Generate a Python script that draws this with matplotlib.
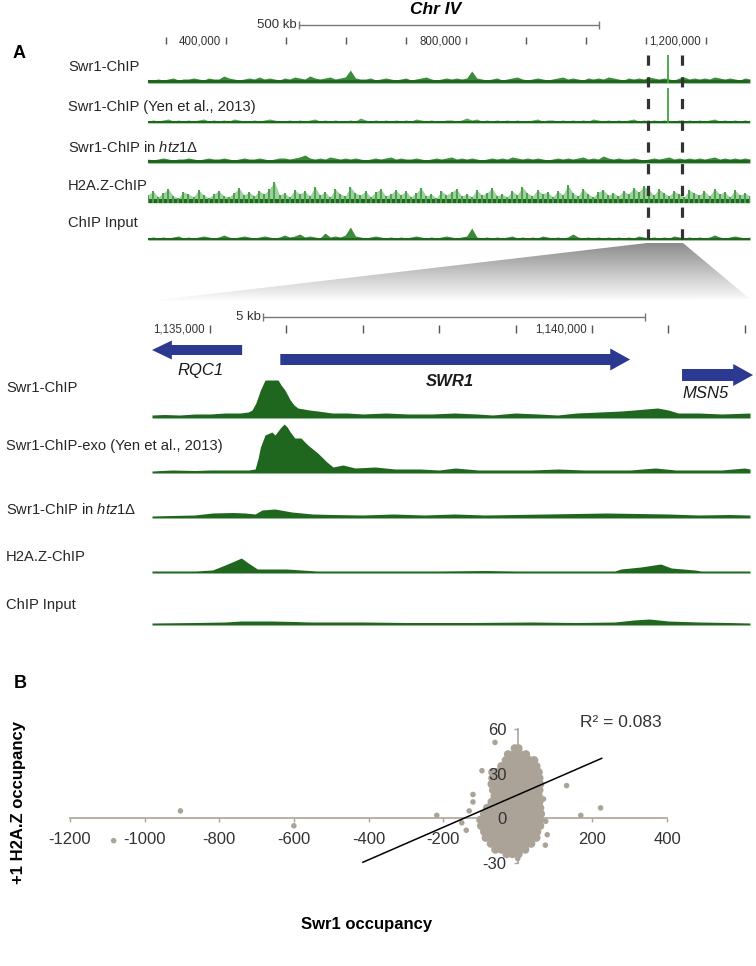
import numpy as np
import matplotlib
matplotlib.use("Agg")
import matplotlib.pyplot as plt
from matplotlib.patches import FancyArrow, Polygon
from matplotlib.colors import LinearSegmentedColormap

plt.rcParams['font.family'] = ['Liberation Sans', 'DejaVu Sans']
plt.rcParams['mathtext.fontset'] = 'custom'
plt.rcParams['mathtext.rm'] = 'Liberation Sans'
plt.rcParams['mathtext.it'] = 'Liberation Sans:italic'
plt.rcParams['axes.unicode_minus'] = False

# =====================================================================
# DATA
# =====================================================================
# --- panel A, chromosome IV overview (bp) ---
TOP_START, TOP_END = 270000, 1273000
top_ticks = [300000, 400000, 500000, 600000, 700000, 800000,
             900000, 1000000, 1100000, 1200000]
top_label_pos = [400000, 800000, 1200000]
top_label_txt = ['400,000', '800,000', '1,200,000']
top_scale_start, top_scale_len = 521700, 500000
zoom_region = [1103000, 1160000]

top_names = ['Swr1-ChIP', 'Swr1-ChIP (Yen et al., 2013)',
             r'Swr1-ChIP in $\mathit{htz1}$Δ', 'H2A.Z-ChIP', 'ChIP Input']

swr1_top = [3, 3, 4, 3, 4, 5, 3, 4, 4, 5, 4, 3, 5, 4, 4, 7, 5, 4, 3, 4,
            5, 4, 6, 4, 5, 4, 3, 5, 4, 6, 5, 4, 7, 5, 4, 5, 6, 4, 5, 6,
            13, 5, 4, 4, 5, 3, 4, 5, 4, 3, 4, 5, 3, 4, 5, 6, 4, 3, 4, 5,
            4, 5, 4, 5, 12, 5, 4, 3, 4, 5, 3, 4, 5, 6, 4, 3, 4, 5, 4, 3,
            4, 5, 6, 4, 5, 4, 3, 5, 4, 5, 4, 6, 5, 4, 3, 5, 4, 5, 4, 6,
            5, 4, 5, 4, 3, 5, 6, 4, 5, 4, 5, 4, 6, 5, 4, 5, 4, 3, 5, 4]
yen_top = [2, 3, 2, 3, 4, 2, 3, 2, 3, 2, 3, 4, 2, 3, 2, 3, 2, 4, 3, 2,
           2, 3, 2, 3, 4, 3, 2, 2, 3, 2, 3, 2, 3, 4, 2, 3, 2, 3, 2, 2,
           3, 2, 5, 3, 2, 3, 2, 3, 2, 3, 2, 3, 2, 4, 3, 2, 3, 2, 2, 3,
           3, 2, 3, 5, 3, 4, 2, 3, 2, 3, 2, 3, 2, 3, 2, 2, 3, 4, 2, 3,
           3, 2, 3, 2, 3, 2, 3, 2, 4, 3, 2, 3, 2, 3, 2, 3, 4, 2, 3, 2,
           3, 2, 3, 2, 2, 3, 2, 3, 2, 3, 2, 3, 4, 2, 3, 2, 3, 2, 3, 2]
htz1_top = [4, 3, 4, 5, 4, 3, 4, 4, 5, 4, 3, 4, 5, 4, 4, 5, 4, 3, 4, 5,
            4, 4, 5, 4, 3, 4, 5, 5, 4, 5, 6, 8, 5, 4, 5, 4, 6, 5, 4, 5,
            4, 5, 4, 3, 4, 5, 4, 5, 6, 4, 5, 4, 4, 5, 4, 3, 4, 5, 4, 5,
            6, 4, 5, 4, 5, 4, 3, 4, 5, 4, 5, 4, 6, 5, 4, 5, 4, 5, 4, 3,
            4, 5, 4, 5, 4, 5, 6, 4, 5, 4, 7, 5, 4, 5, 4, 4, 5, 4, 3, 4,
            5, 4, 5, 6, 4, 5, 4, 5, 4, 5, 4, 5, 6, 4, 5, 4, 5, 4, 5, 4]
h2az_top = [8, 12, 6, 10, 14, 7, 5, 11, 9, 6, 13, 8, 5, 9, 12, 7, 6, 10, 15, 8,
            11, 7, 12, 9, 14, 21, 8, 10, 6, 13, 9, 12, 7, 16, 8, 11, 6, 14, 9, 7,
            16, 10, 8, 12, 6, 11, 14, 7, 9, 13, 8, 12, 6, 10, 15, 7, 9, 5, 12, 8,
            11, 14, 7, 9, 6, 13, 8, 10, 15, 7, 9, 6, 12, 8, 16, 10, 7, 13, 9, 11,
            6, 12, 8, 18, 10, 7, 14, 9, 6, 11, 13, 8, 10, 7, 12, 9, 15, 11, 17, 13,
            8, 14, 10, 7, 12, 9, 6, 13, 10, 8, 12, 7, 14, 9, 11, 6, 13, 8, 10, 7]
input_top = [2, 3, 2, 3, 2, 3, 4, 2, 3, 2, 3, 4, 3, 2, 3, 5, 3, 2, 3, 4,
             3, 2, 3, 4, 3, 2, 3, 5, 3, 4, 6, 3, 4, 3, 2, 7, 3, 4, 3, 5,
             13, 4, 3, 2, 3, 4, 3, 2, 3, 2, 3, 2, 3, 4, 3, 2, 3, 2, 3, 4,
             3, 2, 3, 4, 12, 3, 2, 3, 2, 3, 2, 3, 4, 2, 3, 2, 3, 2, 4, 3,
             2, 3, 2, 3, 6, 3, 2, 3, 2, 3, 2, 3, 2, 3, 2, 3, 2, 4, 3, 2,
             3, 2, 3, 2, 4, 3, 2, 3, 2, 3, 2, 3, 5, 3, 2, 3, 4, 3, 2, 3]
top_tracks = [swr1_top, yen_top, htz1_top, h2az_top, input_top]
spike_pos = 1137000
top_spikes = [28, 35, 0, 0, 0]

# --- panel A, SWR1 locus (kb) ---
BOT_START, BOT_END = 1134.24, 1142.07
bot_ticks = [1135, 1136, 1137, 1138, 1139, 1140, 1141, 1142]
bot_label_pos = [1135, 1140]
bot_label_txt = ['1,135,000', '1,140,000']
bot_scale_start, bot_scale_len = 1135.69, 5.0

gene_names = ['RQC1', 'SWR1', 'MSN5']
gene_tail = [1135.42, 1135.92, 1141.18]
gene_tip = [1134.24, 1140.50, 1142.11]

bot_names = ['Swr1-ChIP', 'Swr1-ChIP-exo (Yen et al., 2013)',
             r'Swr1-ChIP in $\mathit{htz1}$Δ', 'H2A.Z-ChIP', 'ChIP Input']

swr1_bot_x = [1134.24, 1134.40, 1134.60, 1134.80, 1135.00, 1135.20, 1135.40, 1135.50,
              1135.55, 1135.60, 1135.66, 1135.72, 1135.89, 1135.93, 1135.98, 1136.05,
              1136.10, 1136.15, 1136.30, 1136.41, 1136.60, 1136.80, 1137.00, 1137.30,
              1137.60, 1137.90, 1138.20, 1138.50, 1138.70, 1139.00, 1139.30, 1139.55,
              1139.80, 1140.10, 1140.38, 1140.55, 1140.70, 1140.86, 1141.00, 1141.13,
              1141.40, 1141.70, 1142.07]
swr1_bot_y = [3, 3.5, 3, 4, 4, 5, 5, 6,
              8, 15, 28, 38, 38, 33, 28, 18,
              13, 10, 8, 7, 5, 5, 4, 5,
              4, 4, 5, 4, 3, 5, 4, 3,
              5, 6, 7, 8, 9, 10, 8, 5,
              5, 4, 5]
exo_bot_x = [1134.24, 1134.50, 1134.80, 1135.00, 1135.30, 1135.50, 1135.59, 1135.63,
             1135.66, 1135.72, 1135.81, 1135.85, 1135.92, 1135.97, 1136.01, 1136.05,
             1136.11, 1136.19, 1136.28, 1136.41, 1136.53, 1136.61, 1136.74, 1136.90,
             1137.16, 1137.42, 1137.75, 1138.00, 1138.21, 1138.51, 1138.80, 1139.20,
             1139.56, 1139.90, 1140.20, 1140.50, 1140.83, 1141.10, 1141.40, 1141.70,
             1142.00, 1142.07]
exo_bot_y = [2, 3, 2.5, 3, 3, 3, 4, 15,
             26, 38, 41, 38, 45, 49, 46, 41,
             35, 35, 28, 20, 11, 6, 8, 5,
             6, 4, 4, 3, 5, 3, 3, 3,
             4, 3, 3, 3, 5, 3, 3, 3,
             5, 4]
htz1_bot_x = [1134.24, 1134.50, 1134.80, 1135.03, 1135.30, 1135.46, 1135.59, 1135.68,
              1135.85, 1136.07, 1136.34, 1136.60, 1137.00, 1137.40, 1137.80, 1138.20,
              1138.60, 1139.00, 1139.40, 1139.80, 1140.20, 1140.60, 1141.00, 1141.40,
              1141.80, 1142.07]
htz1_bot_y = [2, 2.5, 3, 5, 5.5, 5, 4, 8,
              9, 6, 4, 3.5, 3, 4, 3, 4,
              3, 3.5, 4, 4.5, 5, 4.5, 4, 3,
              3.5, 3]
h2az_bot_x = [1134.24, 1134.80, 1135.03, 1135.10, 1135.29, 1135.41, 1135.50, 1135.62,
              1136.00, 1136.20, 1136.40, 1137.00, 1138.00, 1138.60, 1139.00, 1139.60,
              1140.30, 1140.38, 1140.64, 1140.90, 1141.04, 1141.35, 1141.43, 1142.07]
h2az_bot_y = [2, 2, 3, 5, 11, 15, 10, 4,
              4, 3, 2, 2, 2, 2.5, 2, 2,
              2, 4, 6, 9, 5, 3, 2, 2]
input_bot_x = [1134.24, 1134.80, 1135.20, 1135.40, 1135.80, 1136.10, 1136.30, 1137.00,
               1137.60, 1138.40, 1139.20, 1139.80, 1140.30, 1140.55, 1140.75, 1141.00,
               1141.40, 1141.80, 1142.07]
input_bot_y = [2, 2.5, 3, 4, 4, 3.5, 3, 3,
               2.5, 2.5, 3, 2.5, 3, 5, 6, 4,
               3, 2.5, 2]
bot_tracks_x = [swr1_bot_x, exo_bot_x, htz1_bot_x, h2az_bot_x, input_bot_x]
bot_tracks_y = [swr1_bot_y, exo_bot_y, htz1_bot_y, h2az_bot_y, input_bot_y]

# --- panel B, scatter ---
cloud_row_y = [47, 43, 39, 35, 31, 27, 23, 19, 15, 11, 7, 3, -1, -5, -9, -13, -17, -21, -24]
cloud_row_x = [
    [-8, 2],
    [-26, -10, 6, 22],
    [-32, -16, 0, 16, 32, 44],
    [-44, -28, -12, 4, 20, 36, 50],
    [-68, -54, -38, -22, -6, 10, 26, 42, 56],
    [-68, -52, -36, -20, -4, 12, 28, 44, 58],
    [-70, -54, -38, -22, -6, 10, 26, 42, 60],
    [-66, -50, -34, -18, -2, 14, 30, 46, 58],
    [-62, -46, -30, -14, 2, 18, 34, 50, 56],
    [-70, -54, -38, -22, -6, 10, 26, 42, 58],
    [-82, -66, -50, -34, -18, -2, 14, 30, 46, 60],
    [-90, -74, -58, -42, -26, -10, 6, 22, 38, 54, 62],
    [-100, -84, -68, -52, -36, -20, -4, 12, 28, 44, 60],
    [-98, -82, -66, -50, -34, -18, -2, 14, 30, 46, 60],
    [-90, -74, -58, -42, -26, -10, 6, 22, 38, 52],
    [-86, -70, -54, -38, -22, -6, 10, 26, 42, 50],
    [-72, -56, -40, -24, -8, 8, 24, 36],
    [-60, -44, -28, -12, 4, 20],
    [-30, -14, 2],
]
out_x = [-1083, -904, -600, -217, -150, -138, -130, -120, -120, -96, -61,
         69, 75, 79, 131, 169, 222, 0, 74]
out_y = [-15, 5, -5, 2, -3, -8, 5, 11, 16, 32, 51,
         13, -2, -11, 22, 2, 7, -27, -18]
trend_x = [-415, 225]
trend_y = [-29.5, 40.3]
r2_text = 'R² = 0.083'

# =====================================================================
# STYLE / LAYOUT
# =====================================================================
W, H = 756, 966
TXT = '#262626'
RULER = '#555555'
DARK_GREEN = '#1f661f'
GENE_BLUE = '#2b3990'
POINT = '#aba397'
AXIS_TAN = '#aca499'

fig = plt.figure(figsize=(W / 100, H / 100), dpi=100)


def px_axes(x0, y0, x1, y1):
    """Axes placed with pixel coordinates measured from the top-left."""
    ax = fig.add_axes([x0 / W, 1 - y1 / H, (x1 - x0) / W, (y1 - y0) / H])
    ax.set_axis_off()
    return ax


def px_text(x, y, s, **kw):
    kw.setdefault('color', TXT)
    fig.text(x / W, 1 - y / H, s, **kw)


# zoom connector (gradient trapezoid)
bg = px_axes(0, 0, W, H)
bg.set_xlim(0, W)
bg.set_ylim(H, 0)
fade = LinearSegmentedColormap.from_list('fade', ['#8a8a8a', '#ffffff'])
grad = np.linspace(0, 1, 200).reshape(-1, 1)
im = bg.imshow(grad, extent=(148, 752, 302, 242), cmap=fade, aspect='auto',
               origin='upper', vmin=0, vmax=1)
trap = Polygon([(150, 301), (647, 243), (683, 243), (750, 299)],
               closed=True, transform=bg.transData, facecolor='none', edgecolor='none')
bg.add_patch(trap)
im.set_clip_path(trap)

# panel labels and titles
px_text(13, 54, 'A', fontsize=13, fontweight='bold', va='center', color='black')
px_text(436, 10, 'Chr IV', fontsize=12.5, fontweight='bold', style='italic',
        ha='center', va='center', color='black')

# top ruler
rax = px_axes(148, 0, 750, 50)
rax.set_xlim(TOP_START, TOP_END)
rax.set_ylim(50, 0)
rax.vlines(top_ticks, 37, 44, color=RULER, lw=1)
for pos, txt in zip(top_label_pos, top_label_txt):
    rax.annotate(txt, (pos, 41), xytext=(-3.5, 0), textcoords='offset points',
                 ha='right', va='center', fontsize=8.3, color='#333333')
rax.hlines(25, top_scale_start, top_scale_start + top_scale_len, color='#777777', lw=1)
rax.vlines([top_scale_start, top_scale_start + top_scale_len], 21, 29, color='#777777', lw=1)
rax.annotate('500 kb', (top_scale_start, 25), xytext=(-1.5, 0), textcoords='offset points',
             ha='right', va='center', fontsize=9.5, color='#333333')

# overview tracks
top_base = [83, 123, 163, 203, 240]
top_label_y = [67, 107, 147, 186, 223]
top_fill = ['#3c8a3c', '#5aa65a', '#3c8a3c', '#9fd09f', '#3c8a3c']
top_band = [3, 2, 3, 4, 2.5]
top_bins = np.linspace(TOP_START, TOP_END, len(swr1_top))
for name, vals, spike, yb, ly, fc, band in zip(top_names, top_tracks, top_spikes,
                                                top_base, top_label_y, top_fill, top_band):
    ax = px_axes(148, yb - 36, 750, yb)
    ax.set_xlim(TOP_START, TOP_END)
    ax.set_ylim(0, 36)
    ax.fill_between(top_bins, 0, vals, color=fc, lw=0)
    if name == 'H2A.Z-ChIP':
        # spiky texture: thin columns over a pale fill
        ax.vlines(top_bins, 0, vals, color='#4c9f4c', lw=1.4)
    ax.axhspan(0, band, color=DARK_GREEN, lw=0)
    if spike:
        ax.vlines(spike_pos, 0, spike, color='#3fa33f', lw=1.3)
    px_text(68, ly, name, fontsize=10.6, va='center')

# dashed zoom markers
dax = px_axes(148, 50, 750, 245)
dax.set_xlim(TOP_START, TOP_END)
dax.set_ylim(245, 50)
dax.vlines(zoom_region, 55, 240, colors='#333333', lw=2.3,
           linestyles=(0, (3.2, 3.6)))

# locus ruler
lrax = px_axes(152, 300, 750, 340)
lrax.set_xlim(BOT_START, BOT_END)
lrax.set_ylim(340, 300)
lrax.vlines(bot_ticks, 325, 333, color=RULER, lw=1)
for pos, txt in zip(bot_label_pos, bot_label_txt):
    lrax.annotate(txt, (pos, 330), xytext=(-3.5, 0), textcoords='offset points',
                  ha='right', va='center', fontsize=8.3, color='#333333')
lrax.hlines(317, bot_scale_start, bot_scale_start + bot_scale_len, color='#777777', lw=1)
lrax.vlines([bot_scale_start, bot_scale_start + bot_scale_len], 313, 321, color='#777777', lw=1)
lrax.annotate('5 kb', (bot_scale_start, 317), xytext=(-1.5, 0), textcoords='offset points',
              ha='right', va='center', fontsize=9.5, color='#333333')

# genes
gax = px_axes(152, 335, 750, 400)
gax.set_xlim(BOT_START, BOT_END)
gax.set_ylim(400, 335)
gene_row = [350, 359.5, 375]
body_w = [10, 11, 12]
head_w = [19, 22, 22]
head_len = 0.26
label_pos = [(1134.87, 370), (1138.14, 382), (1141.49, 393)]
label_weight = ['normal', 'bold', 'normal']
for name, tail, tip, yr, bw, hw, lp, fw in zip(gene_names, gene_tail, gene_tip, gene_row,
                                               body_w, head_w, label_pos, label_weight):
    arr = FancyArrow(tail, yr, tip - tail, 0, width=bw, head_width=hw, head_length=head_len,
                     length_includes_head=True, color=GENE_BLUE, lw=0, clip_on=False)
    gax.add_patch(arr)
    gax.text(lp[0], lp[1], name, fontsize=12, style='italic', fontweight=fw,
             ha='center', va='center', color='#1a1a1a')

# locus tracks
bot_base = [418, 473, 518, 573, 625]
bot_label_y = [388, 446, 510, 557, 605]
for name, xs, ys, yb, ly in zip(bot_names, bot_tracks_x, bot_tracks_y, bot_base, bot_label_y):
    ax = px_axes(152, yb - 52, 750, yb)
    ax.set_xlim(BOT_START, BOT_END)
    ax.set_ylim(0, 52)
    ax.fill_between(xs, 0, ys, color=DARK_GREEN, lw=0)
    px_text(6, ly, name, fontsize=10.6, va='center')

# =====================================================================
# PANEL B
# =====================================================================
px_text(14, 683, 'B', fontsize=13, fontweight='bold', va='center', color='black')

cloud_x = [x for row in cloud_row_x for x in row]
cloud_y = [y for y, row in zip(cloud_row_y, cloud_row_x) for _ in row]

sax = fig.add_axes([70 / W, 1 - 863 / H, (667 - 70) / W, (863 - 729) / H])
sax.set_xlim(-1200, 400)
sax.set_ylim(-30, 60)
sax.spines['left'].set_position(('data', 0))
sax.spines['bottom'].set_position(('data', 0))
sax.spines['top'].set_visible(False)
sax.spines['right'].set_visible(False)
for sp in ('left', 'bottom'):
    sax.spines[sp].set_color(AXIS_TAN)
    sax.spines[sp].set_linewidth(1.2)
    sax.spines[sp].set_zorder(1)
sax.set_xticks(range(-1200, 401, 200))
sax.set_yticks([-30, 0, 30, 60])
sax.tick_params(axis='both', direction='out', length=3, width=1, color=AXIS_TAN,
                labelsize=12, labelcolor='#333333')
sax.tick_params(axis='x', pad=7)
sax.tick_params(axis='y', pad=5)
sax.yaxis.set_zorder(3)
sax.patch.set_visible(False)

sax.scatter(cloud_x, cloud_y, s=36, color=POINT, edgecolors='none', zorder=2, clip_on=False)
sax.scatter(out_x, out_y, s=16, color=POINT, edgecolors='none', zorder=2, clip_on=False)
sax.plot(trend_x, trend_y, color='black', lw=1.1, zorder=4, clip_on=False)
sax.text(166, 64.5, r2_text, fontsize=12.5, va='center', ha='left', color='#333333')

px_text(19, 802, '+1 H2A.Z occupancy', fontsize=12, fontweight='bold', rotation=90,
        ha='center', va='center', color='black')
px_text(367, 925, 'Swr1 occupancy', fontsize=12, fontweight='bold',
        ha='center', va='center', color='black')

fig.savefig('out.png', dpi=100)
